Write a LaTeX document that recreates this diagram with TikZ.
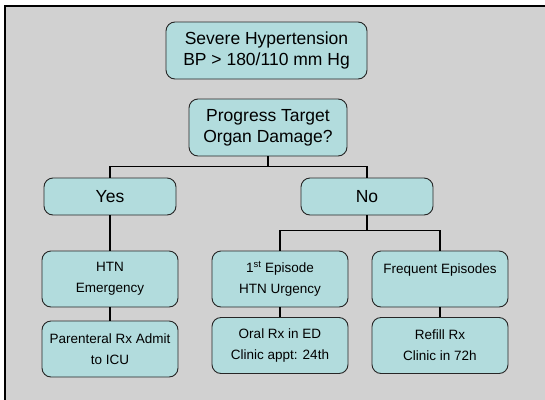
\documentclass[tikz,border=0pt]{standalone}
\usepackage{fontspec}
\setmainfont{Liberation Sans}
\definecolor{boxteal}{RGB}{178,220,221}
\definecolor{panelgray}{RGB}{209,209,209}
\begin{document}
\begin{tikzpicture}
[
x=1pt, y=-1pt,
Frame/.style={draw=black, fill=panelgray, line width=1.3pt},
Box/.style={rectangle, rounded corners=9pt, draw=black!85, fill=boxteal, line width=0.9pt, align=center, inner sep=0pt},
BigBox/.style={Box, font=\fontsize{17.5}{21}\selectfont},
SmallBox/.style={Box, font=\fontsize{13.5}{21}\selectfont, minimum width=136pt, minimum height=56pt},
Link/.style={-, draw=black, line width=1.6pt},
]

\useasboundingbox (0,0) rectangle (545,399);

\fill[panelgray] (5,6) rectangle (548,402);
\draw[Frame, fill=none] (5,402) -- (5,6) -- (548,6);

\node[BigBox, minimum width=201pt, minimum height=57pt] (severe) at (266.5,50.5) {Severe Hypertension\\BP > 180/110 mm Hg};
\node[BigBox, minimum width=158pt, minimum height=57pt] (damage) at (268,127.5) {Progress Target\\Organ Damage?};

\node[BigBox, minimum width=132pt, minimum height=37pt] (yes) at (110,196.5) {Yes};
\node[BigBox, minimum width=132pt, minimum height=37pt] (no)  at (367,196.5) {No};

\node[SmallBox] (emergency) at (110,279) {HTN\\Emergency};
\node[SmallBox] (urgency)   at (280,279) {1\textsuperscript{st} Episode\\HTN Urgency};
\node[SmallBox] (frequent)  at (440,279) {Frequent Episodes\\~};

\node[SmallBox] (parenteral) at (110,349) {Parenteral Rx Admit\\to ICU};
\node[SmallBox] (oral)       at (280,345.5) {Oral Rx in ED\\Clinic appt: 24th};
\node[SmallBox] (refill)     at (440,345.5) {Refill Rx\\Clinic in 72h};

\draw[Link] (damage.south) -- ++(0,10) -| (yes.north);
\draw[Link] (damage.south) -- ++(0,10) -| (no.north);

\draw[Link] (yes.south) -- (emergency.north);
\draw[Link] (no.south) -- ++(0,15) -| (urgency.north);
\draw[Link] (no.south) -- ++(0,15) -| (frequent.north);

\draw[Link] (emergency.south) -- (parenteral.north);
\draw[Link] (urgency.south) -- (oral.north);
\draw[Link] (frequent.south) -- (refill.north);

\end{tikzpicture}
\end{document}
